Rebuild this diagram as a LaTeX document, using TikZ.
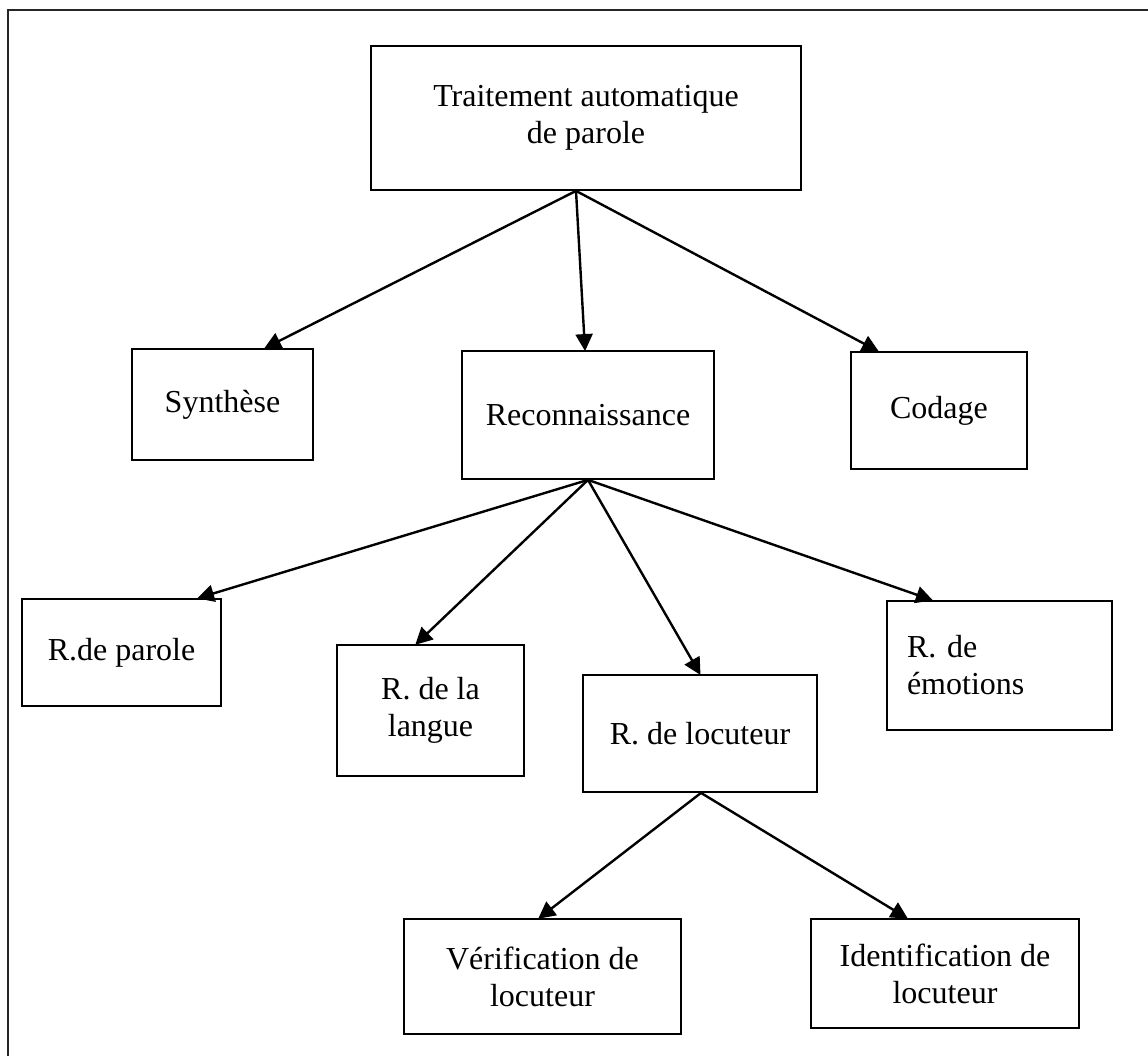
\documentclass[tikz,border=0pt]{standalone}
\usepackage{fontspec}
\setmainfont{Liberation Serif}
\usetikzlibrary{arrows.meta}

\tikzset{
  box/.style={draw, line width=1.8pt, inner sep=0pt, align=center,
    font=\fontsize{32pt}{37pt}\selectfont},
  link/.style={line width=2.4pt, -{Triangle[length=17pt,width=17pt]}, shorten >=-1pt}
}

\begin{document}
\begin{tikzpicture}[x=1pt,y=-1pt]
  \useasboundingbox (0,0) rectangle (1148,1056);
  % page frame (left and top edges)
  \draw[line width=1.8pt, black!85] (8,1060) -- (8,10) -- (1152,10);

  % first level
  \node[box, minimum width=430pt, minimum height=144pt] (top) at (586,118)
    {Traitement automatique\\de parole};
  \node[box, minimum width=181pt, minimum height=111pt] (syn) at (222.5,404.5) {Synthèse};
  \node[box, minimum width=252pt, minimum height=128pt] (rec) at (588,415) {Reconnaissance};
  \node[box, minimum width=176pt, minimum height=117pt] (cod) at (939,410.5) {Codage};

  % recognition branches
  \node[box, minimum width=199pt, minimum height=107pt] (rpar) at (121.5,652.5) {R.de parole};
  \node[box, minimum width=187pt, minimum height=131pt] (rlan) at (430.5,710.5) {R. de la\\langue};
  \node[box, minimum width=234pt, minimum height=117pt] (rloc) at (700,733.5) {R. de locuteur};
  \node[box, text width=185pt, inner xsep=20pt, align=left, minimum height=129pt]
    (remo) at (999.5,665.5) {R. de\\émotions};

  % speaker recognition branches
  \node[box, minimum width=277pt, minimum height=115pt] (ver) at (542.5,976.5) {Vérification de\\locuteur};
  \node[box, minimum width=268pt, minimum height=109pt] (ide) at (945,973.5) {Identification de\\locuteur};

  % connectors
  \draw[link] ([xshift=-10pt]top.south) -- ([xshift=42.5pt]syn.north);
  \draw[link] ([xshift=-10pt]top.south) -- ([xshift=-3pt]rec.north);
  \draw[link] ([xshift=-10pt]top.south) -- ([xshift=-61pt]cod.north);

  \draw[link] (rec.south) -- ([xshift=76.5pt]rpar.north);
  \draw[link] (rec.south) -- ([xshift=-14.5pt]rlan.north);
  \draw[link] (rec.south) -- (rloc.north);
  \draw[link] (rec.south) -- ([xshift=-67.5pt]remo.north);

  \draw[link] ([xshift=1pt]rloc.south) -- ([xshift=-3.5pt]ver.north);
  \draw[link] ([xshift=1pt]rloc.south) -- ([xshift=-38pt]ide.north);
\end{tikzpicture}
\end{document}
